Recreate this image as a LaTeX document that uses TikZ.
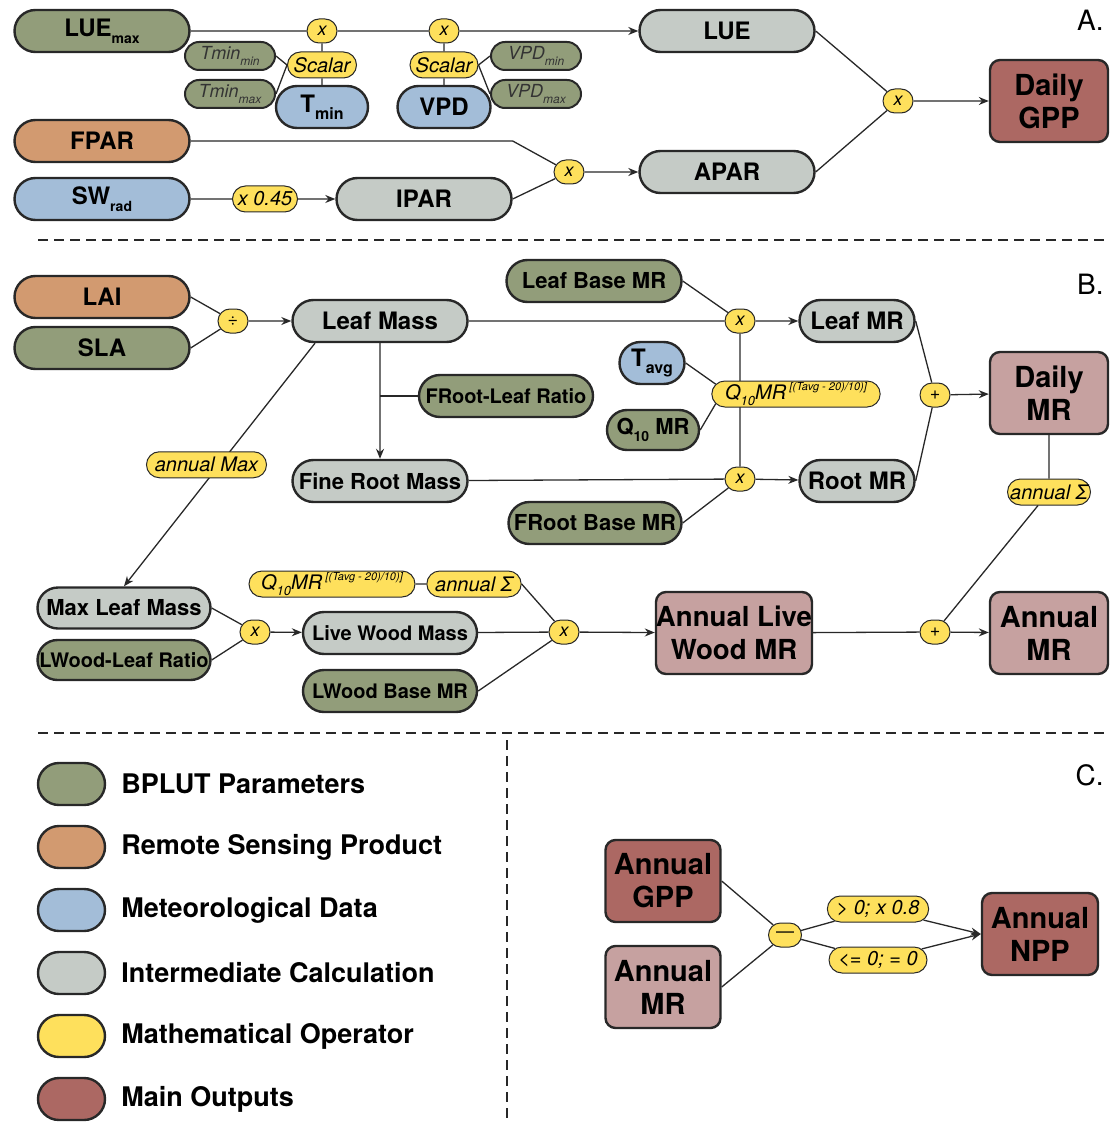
\documentclass[tikz,border=0pt]{standalone}
\usepackage{fontspec}
\setmainfont{TeX Gyre Heros}
\usepackage{xcolor}
\usepackage{tikz}
\usetikzlibrary{shapes.misc,arrows.meta,backgrounds}

\definecolor{bpGreen}{RGB}{146,157,122}
\definecolor{rsOrange}{RGB}{210,154,112}
\definecolor{metBlue}{RGB}{163,189,216}
\definecolor{calcGray}{RGB}{197,203,198}
\definecolor{opYellow}{RGB}{254,224,92}
\definecolor{outRed}{RGB}{172,104,99}
\definecolor{outPink}{RGB}{198,161,160}
\definecolor{edge}{RGB}{40,40,40}

\newcommand{\lowtxt}[2][7]{\raisebox{-0.55ex}{\fontsize{#1}{#1}\selectfont #2}}
\newcommand{\uptxt}[1]{\raisebox{0.9ex}{\fontsize{5.5}{6}\selectfont #1}}

\tikzset{
  pill/.style={rounded rectangle, draw=edge, line width=1.2pt, inner sep=0pt,
    minimum width=87.5pt, minimum height=21pt, font=\bfseries\fontsize{12}{13}\selectfont},
  limbox/.style={rounded rectangle, draw=edge, line width=1pt, fill=bpGreen, inner sep=0pt,
    minimum width=45pt, minimum height=14pt, text=black!80, font=\itshape\fontsize{9}{10}\selectfont},
  op/.style={rounded rectangle, draw=edge, line width=0.5pt, fill=opYellow, inner sep=0pt,
    minimum width=15pt, minimum height=12pt, font=\itshape\fontsize{9}{10}\selectfont},
  optag/.style={op, minimum height=13pt, inner xsep=3pt, font=\itshape\fontsize{10}{11}\selectfont},
  outbox/.style={rectangle, rounded corners=5pt, draw=edge, line width=1.2pt, align=center,
    minimum width=59pt, minimum height=41pt, inner sep=1pt, font=\bfseries\fontsize{14.5}{16.5}\selectfont},
  link/.style={draw=edge, line width=0.65pt},
  divider/.style={draw=edge, line width=0.6pt, dash pattern=on 5pt off 3pt},
  legtxt/.style={anchor=west, inner sep=0pt, font=\bfseries\fontsize{13.5}{15}\selectfont},
  panel/.style={anchor=east, inner sep=0pt, font=\fontsize{14}{15}\selectfont}
}

\begin{document}
\begin{tikzpicture}[x=0.5pt,y=-0.5pt,>={Stealth[length=5pt,width=4pt]}]
\useasboundingbox (0,0) rectangle (1114,1123);

% A. daily GPP
\node[pill,fill=bpGreen] (lueMax) at (102,31) {LUE\lowtxt{max}};
\node[limbox] (tMinMin) at (230,56) {Tmin\lowtxt[6]{min}};
\node[limbox] (tMinMax) at (230,94) {Tmin\lowtxt[6]{max}};
\node[op] (opT) at (322,31) {x};
\node[optag,minimum width=40.5pt] (scalT) at (322,65) {Scalar};
\node[pill,fill=metBlue,minimum width=46pt] (tMin) at (322,107) {T\lowtxt[8]{min}};
\node[op] (opV) at (444,31) {x};
\node[optag,minimum width=40pt] (scalV) at (444,65) {Scalar};
\node[pill,fill=metBlue,minimum width=46.5pt] (vpd) at (444,107) {VPD};
\node[limbox] (vpdMin) at (536,56) {VPD\lowtxt[6]{min}};
\node[limbox] (vpdMax) at (536,94) {VPD\lowtxt[6]{max}};
\node[pill,fill=calcGray] (lue) at (727,31) {LUE};
\node[op] (opGpp) at (898,101) {x};
\node[outbox,fill=outRed] (dailyGpp) at (1049,101) {Daily\\GPP};
\node[pill,fill=rsOrange] (fpar) at (102,141) {FPAR};
\node[pill,fill=metBlue] (swRad) at (102,199) {SW\lowtxt{rad}};
\node[optag,minimum width=38.5pt] (fac) at (265,199) {x 0.45};
\node[pill,fill=calcGray] (ipar) at (424,199) {IPAR};
\node[op] (opApar) at (569,172) {x};
\node[pill,fill=calcGray] (apar) at (727,172) {APAR};
\node[panel] (labA) at (1104,20) {A.};
%
\draw[link,->] (lueMax) -- (opT) -- (opV) -- (lue);
\draw[link] (opT) -- (scalT) -- (tMin);
\draw[link] (tMinMin.east) -- (scalT.west);
\draw[link] (tMinMax.east) -- (scalT.west);
\draw[link] (opV) -- (scalV) -- (vpd);
\draw[link] (scalV.east) -- (vpdMin.west);
\draw[link] (scalV.east) -- (vpdMax.west);
\draw[link] (lue.east) -- (opGpp);
\draw[link] (apar.east) -- (opGpp);
\draw[link,->] (opGpp) -- (dailyGpp);
\draw[link] (fpar.east) -- (fpar.east -| ipar.east) -- (opApar);
\draw[link] (ipar.east) -- (opApar);
\draw[link,->] (opApar) -- (apar);
\draw[link,->] (swRad) -- (fac) -- (ipar);

\draw[divider] (38,240) -- (1108,240);

% B. maintenance respiration
\node[pill,fill=rsOrange] (lai) at (102,297) {LAI};
\node[pill,fill=bpGreen] (sla) at (102,348) {SLA};
\node[op,font=\fontsize{9}{10}\selectfont] (opDiv) at (233,321) {÷};
\node[pill,fill=calcGray] (leafMass) at (380,321) {Leaf Mass};
\node[pill,fill=bpGreen,font=\bfseries\fontsize{11}{12}\selectfont] (leafBase) at (594,281) {Leaf Base MR};
\node[op] (opLeaf) at (740,321) {x};
\node[pill,fill=calcGray,minimum width=57.5pt] (leafMr) at (857,321) {Leaf MR};
\node[pill,fill=metBlue,minimum width=32.5pt] (tAvg) at (652,363) {T\lowtxt[8]{avg}};
\node[optag,minimum width=84pt] (q10a) at (796,394) {Q\lowtxt[6.5]{10}MR\,\uptxt{[(Tavg - 20)/10)]}};
\node[pill,fill=bpGreen,minimum width=46pt,minimum height=20pt,font=\bfseries\fontsize{11}{12}\selectfont] (q10Mr) at (653,430) {Q\lowtxt[7]{10} MR};
\node[pill,fill=bpGreen,minimum width=87pt,font=\bfseries\fontsize{10}{11}\selectfont] (frootRatio) at (506,396) {FRoot-Leaf Ratio};
\node[pill,fill=calcGray,font=\bfseries\fontsize{11}{12}\selectfont] (fineRoot) at (380,481) {Fine Root Mass};
\node[op] (opRoot) at (740,479) {x};
\node[pill,fill=calcGray,minimum width=57.5pt] (rootMr) at (857,481) {Root MR};
\node[pill,fill=bpGreen,minimum width=86.5pt,font=\bfseries\fontsize{11}{12}\selectfont] (frootBase) at (595,523) {FRoot Base MR};
\node[op,font=\fontsize{9}{10}\selectfont] (opPlus) at (935,395) {+};
\node[outbox,fill=outPink] (dailyMr) at (1049,393) {Daily\\MR};
\node[optag,minimum width=47.5pt] (sumA) at (1049,492) {annual Σ};
\node[pill,fill=calcGray,minimum width=86.5pt,minimum height=20.5pt,font=\bfseries\fontsize{11}{12}\selectfont] (maxLeaf) at (124,608) {Max Leaf Mass};
\node[pill,fill=bpGreen,minimum width=86.5pt,minimum height=20pt,font=\bfseries\fontsize{10}{11}\selectfont] (lwRatio) at (124,660) {LWood-Leaf Ratio};
\node[op] (opLw) at (255,632) {x};
\node[pill,fill=calcGray,minimum width=87pt,font=\bfseries\fontsize{10}{11}\selectfont] (liveWood) at (390,633) {Live Wood Mass};
\node[pill,fill=bpGreen,minimum width=87pt,font=\bfseries\fontsize{10}{11}\selectfont] (lwBase) at (390,691) {LWood Base MR};
\node[optag,minimum width=89pt] (q10b) at (332,584) {Q\lowtxt[6.5]{10}MR\,\uptxt{[(Tavg - 20)/10)]}};
\node[optag,minimum width=46.5pt] (sumB) at (474,584) {annual Σ};
\node[op] (opLwMr) at (564,632) {x};
\node[outbox,fill=outPink,minimum width=78pt,inner sep=0pt,font=\bfseries\fontsize{13.8}{16.5}\selectfont] (annLive) at (734,633) {Annual Live\\Wood MR};
\node[op,font=\fontsize{9}{10}\selectfont] (opPlus2) at (935,632) {+};
\node[outbox,fill=outPink] (annMr) at (1049,633) {Annual\\MR};
\node[panel] (labB) at (1104,284) {B.};
%
\draw[link] (lai.east) -- (opDiv);
\draw[link] (sla.east) -- (opDiv);
\draw[link,->] (opDiv) -- (leafMass);
\draw[link,->] (leafMass) -- (opLeaf) -- (leafMr);
\draw[link] (leafBase.east) -- (opLeaf);
\draw[link,->] (leafMass) -- (fineRoot);
\draw[link] (frootRatio.west) -- (frootRatio.west -| leafMass);
\draw[link,->] (fineRoot) -- (opRoot) -- (rootMr);
\draw[link] (frootBase.east) -- (opRoot);
\begin{scope}[on background layer]
\draw[link] (opLeaf) -- (opRoot);
\end{scope}
\draw[link] (tAvg.east) -- (q10a.173);
\draw[link] (q10Mr.east) -- (q10a.187);
\draw[link] (leafMr.east) -- (opPlus);
\draw[link] (rootMr.east) -- (opPlus);
\draw[link,->] (opPlus) -- (dailyMr);
\draw[link] (dailyMr) -- (sumA) -- (opPlus2);
\draw[link,->] ([xshift=-32.5pt]leafMass.south) -- node[optag,minimum width=59.5pt,xshift=-6.5pt] (maxTag) {annual Max} (maxLeaf.north);
\draw[link] (maxLeaf.east) -- (opLw);
\draw[link] (lwRatio.east) -- (opLw);
\draw[link,->] (opLw) -- (liveWood);
\draw[link] (q10b) -- (sumB);
\draw[link] (sumB.east) -- (opLwMr);
\draw[link] (liveWood) -- (opLwMr);
\draw[link] (lwBase.east) -- (opLwMr);
\draw[link,->] (opLwMr) -- (annLive);
\draw[link,->] (annLive) -- (opPlus2) -- (annMr);

\draw[divider] (38,733) -- (1108,733);
\draw[divider] (507,740) -- (507,1123);

% C. legend and annual NPP
\foreach \c/\t [count=\i] in {bpGreen/BPLUT Parameters, rsOrange/Remote Sensing Product,
    metBlue/Meteorological Data, calcGray/Intermediate Calculation,
    opYellow/Mathematical Operator, outRed/Main Outputs}
{
  \node[pill,fill=\c,minimum width=33.5pt] (key\i) at (71.5,{784+63*(\i-1)}) {};
  \node[legtxt] (keyTxt\i) at (121,{784+63*(\i-1)}) {\t};
}
\node[outbox,fill=outRed,minimum width=57.5pt] (annGpp) at (663,881) {Annual\\GPP};
\node[outbox,fill=outPink,minimum width=57.5pt] (annMrC) at (663,987) {Annual\\MR};
\node[op,minimum width=16.5pt,font=\fontsize{9}{10}\selectfont] (opMinus) at (785,935) {—};
\node[optag,minimum width=45.5pt] (posTag) at (878,909) {> 0; x 0.8};
\node[optag,minimum width=45.5pt] (negTag) at (878,960) {<= 0; = 0};
\node[outbox,fill=outRed,minimum width=58pt] (annNpp) at (1040,934) {Annual\\NPP};
\node[panel] (labC) at (1104,775) {C.};
%
\draw[link] (annGpp.east) -- (opMinus);
\draw[link] (annMrC.east) -- (opMinus);
\draw[link] (opMinus) -- (posTag);
\draw[link] (opMinus) -- (negTag);
\draw[link,->] (posTag) -- (annNpp.west);
\draw[link,->] (negTag) -- (annNpp.west);
\end{tikzpicture}
\end{document}
